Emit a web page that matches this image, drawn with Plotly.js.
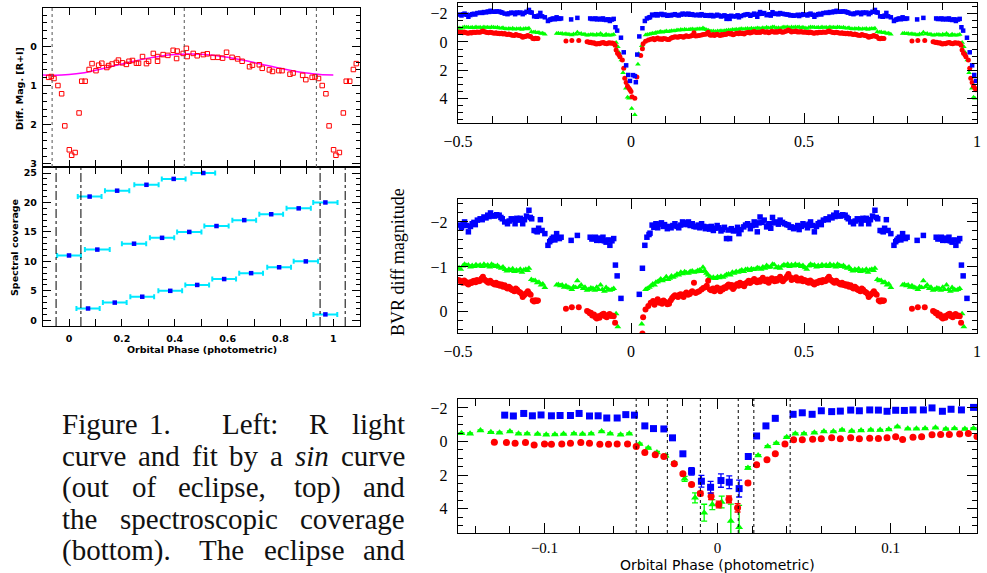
<!DOCTYPE html>
<html><head><meta charset="utf-8">
<script src="https://cdn.plot.ly/plotly-3.0.1.min.js"></script>
<style>html,body{margin:0;padding:0;background:#fff}#c{width:987px;height:573px}</style>
</head><body><div id="c"></div>
<script>
// ---------- DATA ----------
// Left top: R light curve (phase, mag)
const lcPhase = [-0.077,-0.067,-0.057,-0.042,-0.028,-0.016,0.001,0.010,0.023,0.038,0.048,0.061,0.076,0.087,0.102,0.112,0.124,0.143,0.150,0.163,0.179,0.187,0.202,0.217,0.227,0.240,0.255,0.263,0.278,0.293,0.301,0.319,0.335,0.335,0.356,0.374,0.394,0.409,0.407,0.432,0.444,0.447,0.470,0.485,0.508,0.523,0.545,0.563,0.581,0.596,0.617,0.638,0.655,0.683,0.694,0.720,0.731,0.758,0.770,0.794,0.806,0.836,0.848,0.884,0.896,0.920,0.931,0.944,0.958,0.972,0.984,1.001,1.010,1.023,1.038,1.049,1.062,1.076,1.087];
const lcMag = [0.79,0.77,0.82,1.00,1.21,2.03,2.64,2.78,2.71,1.70,0.89,0.89,0.59,0.44,0.62,0.48,0.43,0.54,0.49,0.45,0.41,0.35,0.42,0.46,0.38,0.36,0.43,0.43,0.26,0.44,0.38,0.18,0.38,0.26,0.21,0.23,0.10,0.12,0.31,0.18,0.05,0.26,0.18,0.24,0.21,0.19,0.28,0.28,0.30,0.15,0.28,0.32,0.38,0.52,0.48,0.47,0.56,0.60,0.64,0.62,0.62,0.71,0.68,0.74,0.85,0.79,0.78,0.82,1.00,1.21,2.03,2.64,2.78,2.71,1.70,0.89,0.89,0.59,0.44];
// sin fit
const fitPhase = [-0.10,-0.05,0.00,0.05,0.10,0.15,0.20,0.25,0.30,0.35,0.40,0.45,0.50,0.55,0.60,0.65,0.70,0.75,0.80,0.85,0.90,0.95,1.00];
const fitMag   = [0.73,0.74,0.72,0.68,0.61,0.53,0.45,0.37,0.30,0.245,0.21,0.195,0.20,0.23,0.28,0.34,0.41,0.49,0.56,0.63,0.68,0.72,0.73];
// Left bottom: spectral coverage
const covPhase = [0.970,0.072,0.173,0.277,0.383,0.485,0.587,0.689,0.795,0.896,0.000,0.107,0.246,0.352,0.455,0.558,0.663,0.765,0.869,0.970,0.078,0.182,0.293,0.396,0.508];
const covIndex = [1,2,3,4,5,6,7,8,9,10,11,12,13,14,15,16,17,18,19,20,21,22,23,24,25];
const covHalfWidth = [0.045,0.044,0.045,0.045,0.045,0.045,0.045,0.045,0.045,0.046,0.045,0.047,0.046,0.046,0.046,0.046,0.045,0.045,0.046,0.046,0.045,0.046,0.046,0.045,0.045];

// Right panels (one orbital cycle, phase 0..1): [phase, diff mag]
const blueObs = [[0.006,2.34],[0.011,2.41],[0.014,2.84],[0.018,0.89],[0.024,-0.39],[0.033,-0.97],[0.040,-1.48],[0.046,-1.66],[0.052,-1.72],[0.055,-1.75],[0.061,-1.93],[0.066,-1.88],[0.072,-1.96],[0.077,-1.87],[0.082,-1.95],[0.088,-1.98],[0.093,-1.90],[0.097,-1.94],[0.105,-1.85],[0.110,-1.90],[0.116,-1.87],[0.121,-1.92],[0.127,-1.96],[0.133,-1.90],[0.138,-1.87],[0.144,-1.93],[0.149,-2.00],[0.153,-1.95],[0.157,-1.98],[0.162,-1.94],[0.166,-2.00],[0.171,-1.92],[0.177,-1.96],[0.182,-1.90],[0.188,-1.89],[0.194,-1.93],[0.199,-1.87],[0.204,-1.96],[0.210,-1.90],[0.215,-1.85],[0.221,-1.89],[0.227,-1.84],[0.232,-1.90],[0.238,-1.81],[0.243,-1.86],[0.249,-1.92],[0.254,-1.87],[0.260,-1.80],[0.265,-1.83],[0.270,-1.88],[0.276,-1.63],[0.281,-1.82],[0.285,-1.63],[0.290,-1.85],[0.296,-1.80],[0.304,-1.81],[0.308,-1.88],[0.312,-1.74],[0.318,-1.83],[0.326,-1.89],[0.331,-1.93],[0.337,-1.96],[0.345,-1.85],[0.350,-1.92],[0.356,-2.00],[0.361,-1.93],[0.365,-1.78],[0.370,-1.98],[0.373,-2.11],[0.379,-1.99],[0.385,-2.04],[0.392,-1.89],[0.396,-1.92],[0.400,-1.96],[0.404,-1.86],[0.409,-2.10],[0.414,-1.98],[0.420,-2.00],[0.426,-1.95],[0.431,-2.04],[0.438,-1.99],[0.444,-1.96],[0.450,-1.94],[0.455,-1.93],[0.460,-1.88],[0.464,-1.89],[0.470,-1.85],[0.477,-1.87],[0.482,-1.92],[0.486,-1.83],[0.492,-1.90],[0.497,-1.96],[0.503,-1.93],[0.510,-1.87],[0.515,-1.95],[0.519,-2.00],[0.525,-1.92],[0.530,-1.78],[0.536,-1.90],[0.541,-1.96],[0.546,-1.99],[0.550,-1.94],[0.556,-2.04],[0.564,-2.07],[0.570,-2.05],[0.575,-2.11],[0.581,-2.09],[0.586,-2.15],[0.590,-2.12],[0.594,-2.20],[0.600,-2.14],[0.606,-2.13],[0.612,-2.16],[0.619,-2.15],[0.624,-2.10],[0.628,-2.07],[0.635,-2.00],[0.643,-1.96],[0.648,-2.02],[0.654,-2.07],[0.660,-2.05],[0.665,-1.96],[0.670,-2.08],[0.674,-2.04],[0.680,-2.08],[0.687,-1.96],[0.692,-2.05],[0.698,-2.13],[0.705,-2.26],[0.709,-2.10],[0.713,-2.07],[0.720,-1.81],[0.726,-1.80],[0.729,-1.78],[0.733,-1.86],[0.738,-2.05],[0.743,-1.81],[0.751,-1.74],[0.760,-1.48],[0.765,-1.56],[0.768,-1.59],[0.772,-1.63],[0.776,-1.66],[0.780,-1.60],[0.785,-1.74],[0.789,-1.64],[0.793,-1.63],[0.798,-1.66],[0.827,-1.59],[0.845,-1.70],[0.882,-1.66],[0.887,-1.62],[0.893,-1.63],[0.897,-1.66],[0.901,-1.59],[0.906,-1.64],[0.912,-1.59],[0.916,-1.62],[0.919,-1.66],[0.923,-1.58],[0.928,-1.55],[0.934,-1.60],[0.939,-1.48],[0.945,-1.58],[0.950,-1.63],[0.955,-1.04],[0.960,-0.80],[0.971,-0.30],[0.979,0.73],[0.986,1.65],[0.992,2.33],[0.997,2.75]];
const greenObs = [[0.002,4.70],[0.011,5.13],[0.020,1.57],[0.022,0.84],[0.031,0.27],[0.042,-0.50],[0.047,-0.52],[0.053,-0.55],[0.058,-0.58],[0.063,-0.62],[0.068,-0.60],[0.072,-0.66],[0.077,-0.67],[0.082,-0.70],[0.086,-0.73],[0.091,-0.69],[0.096,-0.72],[0.102,-0.78],[0.107,-0.72],[0.112,-0.75],[0.117,-0.80],[0.122,-0.77],[0.127,-0.80],[0.133,-0.84],[0.138,-0.82],[0.144,-0.88],[0.149,-0.85],[0.155,-0.89],[0.160,-0.87],[0.166,-0.86],[0.171,-0.90],[0.177,-0.91],[0.182,-0.88],[0.188,-0.89],[0.193,-0.92],[0.199,-0.93],[0.204,-0.90],[0.208,-0.99],[0.213,-0.92],[0.218,-0.86],[0.223,-0.82],[0.228,-0.78],[0.232,-0.75],[0.238,-0.77],[0.244,-0.74],[0.250,-0.78],[0.255,-0.76],[0.260,-0.79],[0.266,-0.77],[0.271,-0.80],[0.276,-0.83],[0.282,-0.84],[0.287,-0.82],[0.293,-0.88],[0.298,-0.86],[0.304,-0.90],[0.310,-0.88],[0.315,-0.91],[0.320,-0.93],[0.326,-0.90],[0.331,-0.94],[0.337,-0.95],[0.343,-0.92],[0.348,-0.96],[0.354,-0.94],[0.359,-0.95],[0.365,-0.98],[0.370,-0.97],[0.376,-0.95],[0.381,-1.00],[0.387,-0.97],[0.392,-1.03],[0.398,-0.99],[0.404,-1.00],[0.409,-1.06],[0.414,-1.05],[0.420,-0.98],[0.426,-1.00],[0.431,-0.97],[0.437,-1.02],[0.442,-1.05],[0.448,-1.03],[0.453,-1.06],[0.458,-1.01],[0.464,-1.05],[0.470,-1.02],[0.475,-1.06],[0.481,-1.03],[0.486,-1.05],[0.492,-1.01],[0.497,-1.03],[0.503,-0.98],[0.508,-0.95],[0.514,-1.02],[0.519,-1.06],[0.525,-1.03],[0.530,-1.04],[0.536,-1.00],[0.541,-1.03],[0.547,-1.01],[0.552,-1.05],[0.558,-1.02],[0.564,-1.04],[0.570,-1.01],[0.575,-1.06],[0.581,-1.02],[0.586,-1.04],[0.592,-1.00],[0.597,-1.06],[0.603,-1.03],[0.608,-1.01],[0.614,-1.03],[0.619,-0.99],[0.625,-0.97],[0.630,-1.00],[0.636,-0.94],[0.641,-0.91],[0.647,-0.95],[0.652,-0.92],[0.658,-0.96],[0.663,-0.90],[0.669,-0.93],[0.674,-0.91],[0.680,-0.95],[0.685,-0.88],[0.690,-0.93],[0.696,-0.95],[0.701,-0.92],[0.705,-0.97],[0.712,-0.72],[0.718,-0.69],[0.723,-0.70],[0.729,-0.65],[0.734,-0.66],[0.740,-0.60],[0.745,-0.62],[0.751,-0.54],[0.785,-0.60],[0.790,-0.61],[0.796,-0.58],[0.801,-0.60],[0.807,-0.55],[0.812,-0.58],[0.818,-0.55],[0.823,-0.53],[0.829,-0.50],[0.834,-0.56],[0.840,-0.54],[0.845,-0.69],[0.851,-0.56],[0.856,-0.60],[0.862,-0.52],[0.867,-0.55],[0.873,-0.48],[0.878,-0.50],[0.884,-0.53],[0.890,-0.52],[0.895,-0.48],[0.901,-0.55],[0.906,-0.50],[0.912,-0.60],[0.917,-0.50],[0.923,-0.46],[0.928,-0.54],[0.934,-0.50],[0.939,-0.48],[0.945,-0.50],[0.950,-0.52],[0.957,0.04],[0.962,0.33],[0.965,0.72],[0.972,1.28],[0.977,2.17],[0.985,3.27],[0.990,3.90],[0.994,3.98]];
const redObs = [[0.000,3.49],[0.003,3.86],[0.011,3.98],[0.017,2.48],[0.028,0.96],[0.033,0.48],[0.035,0.12],[0.042,-0.05],[0.050,-0.13],[0.057,-0.20],[0.064,-0.24],[0.068,-0.16],[0.072,-0.22],[0.077,-0.28],[0.082,-0.20],[0.086,-0.23],[0.090,-0.18],[0.094,-0.25],[0.100,-0.22],[0.105,-0.17],[0.110,-0.18],[0.115,-0.26],[0.119,-0.31],[0.123,-0.34],[0.127,-0.37],[0.132,-0.35],[0.136,-0.33],[0.140,-0.38],[0.144,-0.39],[0.148,-0.36],[0.152,-0.33],[0.156,-0.40],[0.160,-0.43],[0.165,-0.38],[0.170,-0.40],[0.175,-0.44],[0.177,-0.46],[0.182,-0.65],[0.187,-0.42],[0.192,-0.44],[0.197,-0.46],[0.204,-0.50],[0.209,-0.53],[0.215,-0.55],[0.219,-0.58],[0.223,-0.69],[0.228,-0.50],[0.232,-0.48],[0.237,-0.52],[0.241,-0.46],[0.245,-0.51],[0.249,-0.54],[0.254,-0.49],[0.258,-0.46],[0.262,-0.52],[0.265,-0.50],[0.270,-0.55],[0.274,-0.53],[0.278,-0.58],[0.282,-0.61],[0.287,-0.56],[0.291,-0.60],[0.295,-0.51],[0.298,-0.54],[0.303,-0.59],[0.307,-0.62],[0.311,-0.58],[0.315,-0.65],[0.319,-0.60],[0.323,-0.62],[0.327,-0.57],[0.331,-0.63],[0.336,-0.66],[0.340,-0.69],[0.344,-0.64],[0.348,-0.67],[0.352,-0.70],[0.356,-0.73],[0.360,-0.68],[0.364,-0.66],[0.368,-0.70],[0.373,-0.67],[0.377,-0.72],[0.381,-0.76],[0.385,-0.70],[0.389,-0.68],[0.394,-0.72],[0.398,-0.65],[0.403,-0.70],[0.407,-0.75],[0.411,-0.72],[0.415,-0.68],[0.419,-0.73],[0.422,-0.69],[0.427,-0.74],[0.431,-0.78],[0.435,-0.71],[0.439,-0.68],[0.443,-0.72],[0.447,-0.75],[0.451,-0.79],[0.455,-0.84],[0.460,-0.77],[0.464,-0.71],[0.468,-0.74],[0.473,-0.73],[0.477,-0.77],[0.481,-0.70],[0.485,-0.72],[0.488,-0.70],[0.492,-0.74],[0.497,-0.68],[0.501,-0.71],[0.506,-0.69],[0.510,-0.66],[0.514,-0.65],[0.518,-0.70],[0.522,-0.67],[0.526,-0.63],[0.530,-0.61],[0.535,-0.66],[0.539,-0.64],[0.543,-0.68],[0.547,-0.69],[0.551,-0.66],[0.555,-0.71],[0.560,-0.68],[0.564,-0.69],[0.568,-0.74],[0.572,-0.78],[0.576,-0.72],[0.580,-0.70],[0.584,-0.67],[0.588,-0.65],[0.593,-0.69],[0.597,-0.66],[0.601,-0.63],[0.606,-0.61],[0.610,-0.65],[0.614,-0.60],[0.618,-0.62],[0.621,-0.58],[0.626,-0.61],[0.630,-0.56],[0.635,-0.59],[0.639,-0.54],[0.643,-0.52],[0.647,-0.56],[0.651,-0.53],[0.654,-0.50],[0.658,-0.48],[0.663,-0.46],[0.667,-0.52],[0.671,-0.49],[0.676,-0.45],[0.680,-0.43],[0.684,-0.40],[0.687,-0.33],[0.691,-0.37],[0.694,-0.39],[0.698,-0.42],[0.702,-0.46],[0.706,-0.41],[0.710,-0.38],[0.716,-0.25],[0.720,-0.23],[0.724,-0.26],[0.728,-0.24],[0.731,-0.25],[0.812,-0.07],[0.829,-0.10],[0.849,-0.10],[0.873,-0.02],[0.877,0.00],[0.881,0.03],[0.884,0.02],[0.888,0.08],[0.893,0.06],[0.897,0.12],[0.901,0.15],[0.905,0.10],[0.909,0.13],[0.913,0.08],[0.917,0.06],[0.921,0.04],[0.925,0.10],[0.930,0.12],[0.934,0.07],[0.938,0.05],[0.942,0.09],[0.946,0.08],[0.950,0.10],[0.954,0.24],[0.957,0.57],[0.961,0.80],[0.965,0.90],[0.968,1.05],[0.975,1.27],[0.979,1.86],[0.982,2.56],[0.986,2.87],[0.990,3.13],[0.994,3.27],[0.997,3.37]];

// Bottom right: binned eclipse [phase, mag, error]
const blueBin = [[-0.123,-1.57,0.05],[-0.118,-1.52,0.05],[-0.112,-1.67,0.05],[-0.107,-1.53,0.05],[-0.102,-1.58,0.05],[-0.096,-1.53,0.05],[-0.091,-1.55,0.05],[-0.085,-1.55,0.05],[-0.080,-1.67,0.05],[-0.074,-1.52,0.05],[-0.069,-1.53,0.05],[-0.064,-1.40,0.05],[-0.058,-1.40,0.05],[-0.053,-1.60,0.05],[-0.048,-1.57,0.05],[-0.042,-0.93,0.06],[-0.037,-0.77,0.06],[-0.031,-0.75,0.06],[-0.026,-0.22,0.07],[-0.020,0.73,0.10],[-0.015,1.77,0.22],[-0.0093,2.36,0.35],[-0.0040,2.72,0.35],[0.0020,2.32,0.40],[0.0068,2.42,0.38],[0.0125,2.80,0.50],[0.0178,0.89,0.10],[0.0226,-0.33,0.06],[0.0280,-0.93,0.06],[0.0334,-1.38,0.05],[0.0437,-1.62,0.06],[0.049,-1.71,0.05],[0.0547,-1.62,0.05],[0.060,-1.83,0.05],[0.066,-1.78,0.05],[0.071,-1.81,0.05],[0.077,-1.87,0.05],[0.082,-1.83,0.05],[0.088,-1.88,0.05],[0.093,-1.87,0.05],[0.098,-1.80,0.05],[0.103,-1.86,0.05],[0.108,-1.85,0.05],[0.113,-1.88,0.05],[0.119,-1.88,0.05],[0.124,-2.00,0.05],[0.130,-1.80,0.05],[0.135,-1.92,0.05],[0.141,-1.88,0.05],[0.148,-2.03,0.05]];
const greenBin = [[-0.148,-0.49,0.04],[-0.143,-0.47,0.04],[-0.137,-0.65,0.04],[-0.131,-0.55,0.04],[-0.126,-0.53,0.04],[-0.120,-0.59,0.04],[-0.115,-0.47,0.04],[-0.110,-0.47,0.04],[-0.104,-0.45,0.04],[-0.099,-0.41,0.04],[-0.094,-0.42,0.04],[-0.089,-0.45,0.04],[-0.083,-0.47,0.04],[-0.078,-0.45,0.04],[-0.073,-0.47,0.04],[-0.067,-0.59,0.04],[-0.062,-0.47,0.04],[-0.056,-0.41,0.04],[-0.051,-0.47,0.04],[-0.045,0.14,0.05],[-0.040,0.39,0.05],[-0.035,0.65,0.06],[-0.030,0.85,0.07],[-0.025,1.28,0.08],[-0.019,2.22,0.15],[-0.013,3.35,0.30],[-0.0077,4.23,0.50],[-0.0030,3.75,0.30],[0.0024,3.60,0.35],[0.0077,4.72,1.00],[0.0125,5.10,1.30],[0.0176,1.57,0.07],[0.0235,0.83,0.05],[0.029,0.30,0.05],[0.034,0.10,0.05],[0.040,-0.26,0.04],[0.045,-0.47,0.04],[0.050,-0.47,0.04],[0.056,-0.53,0.04],[0.0615,-0.59,0.04],[0.067,-0.60,0.04],[0.072,-0.69,0.04],[0.0776,-0.62,0.04],[0.083,-0.66,0.04],[0.0886,-0.69,0.04],[0.094,-0.68,0.04],[0.099,-0.72,0.04],[0.104,-0.88,0.04],[0.110,-0.76,0.04],[0.115,-0.76,0.04],[0.120,-0.77,0.04],[0.126,-0.82,0.04],[0.132,-0.75,0.04],[0.137,-0.77,0.04],[0.143,-0.75,0.04],[0.148,-0.78,0.04]];
const redBin = [[-0.129,0.04,0.04],[-0.122,0.06,0.04],[-0.117,0.10,0.04],[-0.111,0.06,0.04],[-0.106,0.20,0.04],[-0.100,0.14,0.04],[-0.096,0.16,0.04],[-0.090,0.14,0.04],[-0.085,0.10,0.04],[-0.079,0.06,0.04],[-0.074,0.10,0.04],[-0.068,0.16,0.04],[-0.063,0.16,0.04],[-0.058,0.14,0.04],[-0.052,0.14,0.04],[-0.047,0.30,0.05],[-0.042,0.65,0.05],[-0.036,0.79,0.05],[-0.031,0.89,0.05],[-0.025,1.32,0.06],[-0.020,1.91,0.08],[-0.015,2.56,0.08],[-0.0099,3.09,0.12],[-0.0037,3.25,0.20],[0.0007,3.74,0.20],[0.0066,3.44,0.20],[0.0116,3.94,0.25],[0.0176,2.46,0.10],[0.0226,1.38,0.06],[0.0286,1.08,0.05],[0.0334,0.73,0.05],[0.039,0.14,0.04],[0.044,-0.10,0.04],[0.049,-0.10,0.04],[0.055,-0.14,0.04],[0.060,-0.16,0.04],[0.066,-0.22,0.04],[0.071,-0.16,0.04],[0.077,-0.22,0.04],[0.082,-0.16,0.04],[0.088,-0.20,0.04],[0.093,-0.18,0.04],[0.098,-0.22,0.04],[0.103,-0.28,0.04],[0.107,-0.12,0.04],[0.113,-0.25,0.04],[0.118,-0.28,0.04],[0.124,-0.40,0.04],[0.129,-0.42,0.04],[0.134,-0.42,0.04],[0.140,-0.45,0.04],[0.145,-0.48,0.04],[0.150,-0.30,0.04]];

// Reference phases (dotted / dash-dot lines)
const lcMarks = [-0.064, 0.436, 0.936];
const covMarks = [-0.049, 0.045, 0.950, 1.045];
const binMarks = [-0.047, -0.029, -0.0099, 0.012, 0.021, 0.042];

const captionLines = [
  ['Figure','1.','Left:','R','light'],
  ['curve','and','fit','by','a','<i>sin</i>','curve'],
  ['(out','of','eclipse,','top)','and'],
  ['the','spectroscopic','coverage'],
  ['(bottom).','The','eclipse','and']
];

// ---------- LAYOUT HELPERS ----------
const W=987,H=573;
const X=p=>p/W, Y=p=>1-p/H;
function fold(pairs){const x=[],y=[];pairs.forEach(([p,m])=>{x.push(p);y.push(m);if(p>=0.5){x.push(p-1);y.push(m);}});return {x,y};}
const col = arr => i => arr.map(r=>r[i]);

const SERIF = '"Liberation Serif", "Times New Roman", "DejaVu Serif", serif';
const BLUE='#0000ff', GREEN='#00ff00', RED='#ff0000';
const sansB = {family:'"DejaVu Sans", sans-serif', size:9.5, weight:'bold', color:'#000'};
const serif = {family:SERIF, size:16, color:'#000'};
function ax(o){return Object.assign({showline:true,linecolor:'#000',linewidth:1.2,mirror:'ticks',ticks:'inside',tickcolor:'#000',tickwidth:1,showgrid:false,zeroline:false,fixedrange:true},o);}

const data=[];
// left top
data.push({x:fitPhase,y:fitMag,mode:'lines',line:{color:'#ff00ff',width:1.5,shape:'spline'},xaxis:'x',yaxis:'y',hoverinfo:'skip'});
data.push({x:lcPhase,y:lcMag,mode:'markers',marker:{symbol:'square-open',size:4.5,color:RED,line:{width:1,color:RED}},xaxis:'x',yaxis:'y'});
// left bottom
data.push({x:covPhase,y:covIndex,mode:'markers',marker:{symbol:'square',size:4.5,color:BLUE},
  error_x:{type:'data',array:covHalfWidth,color:'#00e8ff',thickness:2,width:2.5},xaxis:'x2',yaxis:'y2'});
// right A & B
[['x3','y3',5],['x4','y4',6]].forEach(([xa,ya,s])=>{
  const g=fold(greenObs), r=fold(redObs), b=fold(blueObs);
  data.push({x:g.x,y:g.y,mode:'markers',marker:{symbol:'triangle-up',size:s,color:GREEN},xaxis:xa,yaxis:ya});
  data.push({x:r.x,y:r.y,mode:'markers',marker:{symbol:'circle',size:s,color:RED},xaxis:xa,yaxis:ya});
  data.push({x:b.x,y:b.y,mode:'markers',marker:{symbol:'square',size:s-0.5,color:BLUE},xaxis:xa,yaxis:ya});
});
// right C
[[greenBin,GREEN,'triangle-up'],[redBin,RED,'circle'],[blueBin,BLUE,'square']].forEach(([d,c,sym])=>{
  data.push({x:col(d)(0),y:col(d)(1),mode:'markers',marker:{symbol:sym,size:7,color:c},
    error_y:{type:'data',array:col(d)(2),color:c,thickness:1.3,width:3},xaxis:'x5',yaxis:'y5'});
});

const shapes=[];
lcMarks.forEach(v=>shapes.push({type:'line',xref:'x',yref:'y domain',x0:v,x1:v,y0:0,y1:1,line:{color:'#555',width:1,dash:'dot'}}));
covMarks.forEach(v=>shapes.push({type:'line',xref:'x2',yref:'y2 domain',x0:v,x1:v,y0:0,y1:1,line:{color:'#000',width:1,dash:'dashdot'}}));
binMarks.forEach(v=>shapes.push({type:'line',xref:'x5',yref:'y5 domain',x0:v,x1:v,y0:0,y1:1,line:{color:'#000',width:1,dash:'dot'}}));

const leftDom=[X(43),X(360)], rightDom=[X(458),X(977)];
const layout={
  width:W,height:H,margin:{l:0,r:0,t:0,b:0},paper_bgcolor:'#fff',plot_bgcolor:'rgba(0,0,0,0)',showlegend:false,
  xaxis: ax({domain:leftDom,anchor:'y',range:[-0.0985,1.101],dtick:0.2,tick0:0,ticklen:7,showticklabels:false,minor:{dtick:0.1,ticklen:7,ticks:'inside',tickcolor:'#000'}}),
  yaxis: ax({domain:[Y(167),Y(8)],anchor:'x',range:[3.08,-0.98],dtick:1,tick0:0,ticklen:8,minor:{dtick:0.2,ticklen:4,ticks:'inside',tickcolor:'#000'},tickfont:sansB,ticklabelstandoff:3}),
  xaxis2: ax({domain:leftDom,anchor:'y2',range:[-0.0985,1.101],dtick:0.2,tick0:0,ticklen:7,minor:{dtick:0.1,ticklen:7,ticks:'inside',tickcolor:'#000'},tickfont:sansB,ticklabelstandoff:3}),
  yaxis2: ax({domain:[Y(326),Y(167)],anchor:'x2',range:[-0.97,26.02],dtick:5,tick0:0,ticklen:8,minor:{dtick:1,ticklen:4,ticks:'inside',tickcolor:'#000'},tickfont:sansB,ticklabelstandoff:3}),
  xaxis3: ax({domain:rightDom,anchor:'y3',range:[-0.5,1.0],dtick:0.5,tick0:0,ticklen:10,minor:{dtick:0.1,ticklen:7,ticks:'inside',tickcolor:'#000'},tickfont:serif,ticklabelstandoff:4}),
  yaxis3: ax({domain:[Y(123),Y(3)],anchor:'x3',range:[5.72,-2.75],dtick:2,tick0:0,ticklen:10,minor:{dtick:0.5,ticklen:5,ticks:'inside',tickcolor:'#000'},tickfont:serif,ticklabelstandoff:6}),
  xaxis4: ax({domain:rightDom,anchor:'y4',range:[-0.5,1.0],dtick:0.5,tick0:0,ticklen:10,minor:{dtick:0.1,ticklen:7,ticks:'inside',tickcolor:'#000'},tickfont:serif,ticklabelstandoff:4}),
  yaxis4: ax({domain:[Y(333),Y(199)],anchor:'x4',range:[0.47,-2.51],dtick:1,tick0:0,ticklen:10,minor:{dtick:0.2,ticklen:5,ticks:'inside',tickcolor:'#000'},tickfont:serif,ticklabelstandoff:6}),
  xaxis5: ax({domain:rightDom,anchor:'y5',range:[-0.15,0.15],dtick:0.1,tick0:0,ticklen:10,minor:{dtick:0.02,ticklen:7,ticks:'inside',tickcolor:'#000'},tickfont:{family:SERIF,size:15,color:'#000'},ticklabelstandoff:1}),
  yaxis5: ax({domain:[Y(533),Y(399)],anchor:'x5',range:[5.44,-2.53],dtick:2,tick0:0,ticklen:10,minor:{dtick:0.5,ticklen:5,ticks:'inside',tickcolor:'#000'},tickfont:serif,ticklabelstandoff:6}),
  shapes:shapes,
  annotations:[]
};
const A=layout.annotations;
function note(text,px,py,font,angle){A.push({text,xref:'paper',yref:'paper',x:X(px),y:Y(py),xanchor:'center',yanchor:'middle',showarrow:false,textangle:angle||0,borderpad:0,font});}
note('Diff. Mag. [R+I]',20,89,sansB,-90);
note('Spectral coverage',14,248,sansB,-90);
note('Orbital Phase (photometric)',202,349,sansB);
note('BVR\u00a0diff\u00a0magnitude',398,262,{family:SERIF,size:18,color:'#000'},-90);
note('Orbital Phase (photometric)',717,565,{family:'"DejaVu Sans", sans-serif',size:14,color:'#000'});

// caption, justified between two edges
(function(){
  const left=61,right=404,ys=[424,455.5,487,518.5,550],fam='Liberation Serif';
  const cv=document.createElement('canvas').getContext('2d');
  const meas=(w,s)=>{const it=w.startsWith('<i>');cv.font=(it?'italic ':'')+s+'px "'+fam+'", "Times New Roman", serif';return cv.measureText(w.replace(/<\/?i>/g,'')).width;};
  const l2=captionLines[1]; let w100=l2.reduce((a,w)=>a+meas(w,100),0)+(l2.length-1)*25;
  const fs=Math.max(20,Math.min(29,100*(right-left-4)/w100));
  captionLines.forEach((words,li)=>{
    const ws=words.map(w=>meas(w,fs));
    const total=ws.reduce((a,b)=>a+b,0);
    let wts=words.slice(0,-1).map(w=>/[.]$/.test(w)?1.5:(/[,:]$/.test(w)?1.2:1));
    if(li===0) wts=[0.5,2.4,1.4,1.1];
    const wsum=wts.reduce((a,b)=>a+b,0);
    const gap=(right-left-total)/wsum;
    let x=left;
    words.forEach((w,i)=>{
      A.push({text:w,xref:'paper',yref:'paper',x:X(x),y:Y(ys[li]),xanchor:'left',yanchor:'middle',showarrow:false,borderpad:0,font:{family:SERIF,size:fs,color:'#111'}});
      x+=ws[i]+(i<wts.length?wts[i]*gap:0);
    });
  });
})();

Plotly.newPlot('c',data,layout,{displayModeBar:false,staticPlot:true});
</script></body></html>
